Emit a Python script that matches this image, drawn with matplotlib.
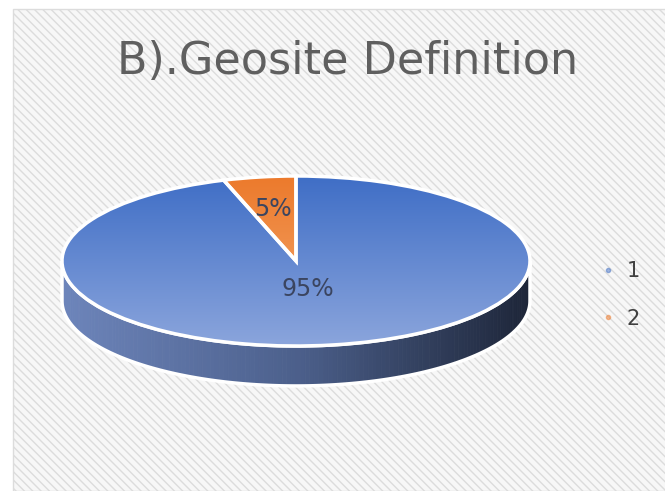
import numpy as np
import matplotlib
matplotlib.use("Agg")
import matplotlib.pyplot as plt
from matplotlib.patches import Rectangle, Polygon
from matplotlib.lines import Line2D
from matplotlib.colors import to_rgb

# ---- data ----
categories = ["1", "2"]
values = [95, 5]
pct_labels = ["95%", "5%"]
title = "B).Geosite Definition"

# ---- style ----
top_colors = [("#3f6ec6", "#8ba5dc"), ("#ec7a2c", "#f5ab72")]
series_colors = ["#4472c4", "#ed7d31"]
side_left, side_mid, side_right = "#6d85bb", "#4c608c", "#1d2538"
depth = 0.47

plt.rcParams["hatch.linewidth"] = 1.0
fig = plt.figure(figsize=(6.65, 4.91), dpi=100, facecolor="white")

# chart background with diagonal hatch
bg = Rectangle((13 / 665, 0), 1, (491 - 9) / 491, transform=fig.transFigure,
               facecolor="#f7f7f7", edgecolor="#dcdcdc", hatch="\\\\\\\\",
               lw=1.0, zorder=-5)
fig.patches.append(bg)

ax = fig.add_axes([0, 0, 1, 1])
ax.set_zorder(2)
wedges, texts = ax.pie(values, startangle=90, counterclock=False, radius=1,
                       wedgeprops=dict(edgecolor="white", linewidth=2.5,
                                       facecolor="none", zorder=3))
ax.set_aspect("auto")
ax.axis("off")
ax.patch.set_visible(False)

# side (front visible half)
def mix(c1, c2, t):
    a, b = np.array(to_rgb(c1)), np.array(to_rgb(c2))
    return tuple(a + (b - a) * t)

N = 160
th = np.linspace(np.pi, 2 * np.pi, N + 1)
for i in range(N):
    t = np.linspace(th[i], th[i + 1], 4)
    xs, ys = np.cos(t), np.sin(t)
    pts = np.concatenate([np.column_stack([xs, ys]),
                          np.column_stack([xs[::-1], ys[::-1] - depth])])
    xm = np.cos((th[i] + th[i + 1]) / 2)
    col = mix(side_left, side_mid, xm + 1) if xm < 0 else mix(side_mid, side_right, xm)
    ax.add_patch(Polygon(pts, closed=True, facecolor=col, edgecolor=col,
                         lw=0.6, zorder=1))
tt = np.linspace(np.pi, 2 * np.pi, 200)
outline = np.concatenate([np.column_stack([np.cos(tt), np.sin(tt)]),
                          np.column_stack([np.cos(tt[::-1]), np.sin(tt[::-1]) - depth])])
ax.add_patch(Polygon(outline, closed=True, facecolor="none", edgecolor="white",
                     lw=2.5, zorder=1.5))

# gradient top faces
for w, (c_top, c_bot) in zip(wedges, top_colors):
    grad = np.array([mix(c_top, c_bot, s) for s in np.linspace(0, 1, 256)])
    grad = grad[:, None, :]
    im = ax.imshow(grad, extent=(-1, 1, -1, 1), origin="upper", aspect="auto",
                   zorder=2, interpolation="bilinear")
    im.set_clip_path(w)
ax.set_xlim((0 - 296) / 234, (665 - 296) / 234)
ax.set_ylim((261 - 491) / 85, 261 / 85)

# percentage labels
dists = [0.33, 0.62]
for w, lab, d in zip(wedges, pct_labels, dists):
    ang = np.deg2rad((w.theta1 + w.theta2) / 2)
    ax.text(d * np.cos(ang), d * np.sin(ang), lab, ha="center", va="center",
            fontsize=17, color="#3b4560", family="DejaVu Sans", zorder=5)

# legend
handles = [Line2D([], [], marker="o", ls="", markersize=3, color=c, alpha=0.5)
           for c in series_colors]
ax.legend(handles, categories, loc="center left",
          bbox_to_anchor=(589 / 665, 1 - 295 / 491), bbox_transform=fig.transFigure,
          frameon=False, handlelength=0.8, handletextpad=0.5,
          labelspacing=1.3, borderpad=0, labelcolor="#404040",
          prop={"family": "DejaVu Sans", "size": 15})

fig.text(348 / 665, 1 - 62 / 491, title, ha="center", va="center",
         fontsize=32, color="#5f5f5f", family="DejaVu Sans")

fig.savefig("out.png", dpi=100, facecolor="white")
